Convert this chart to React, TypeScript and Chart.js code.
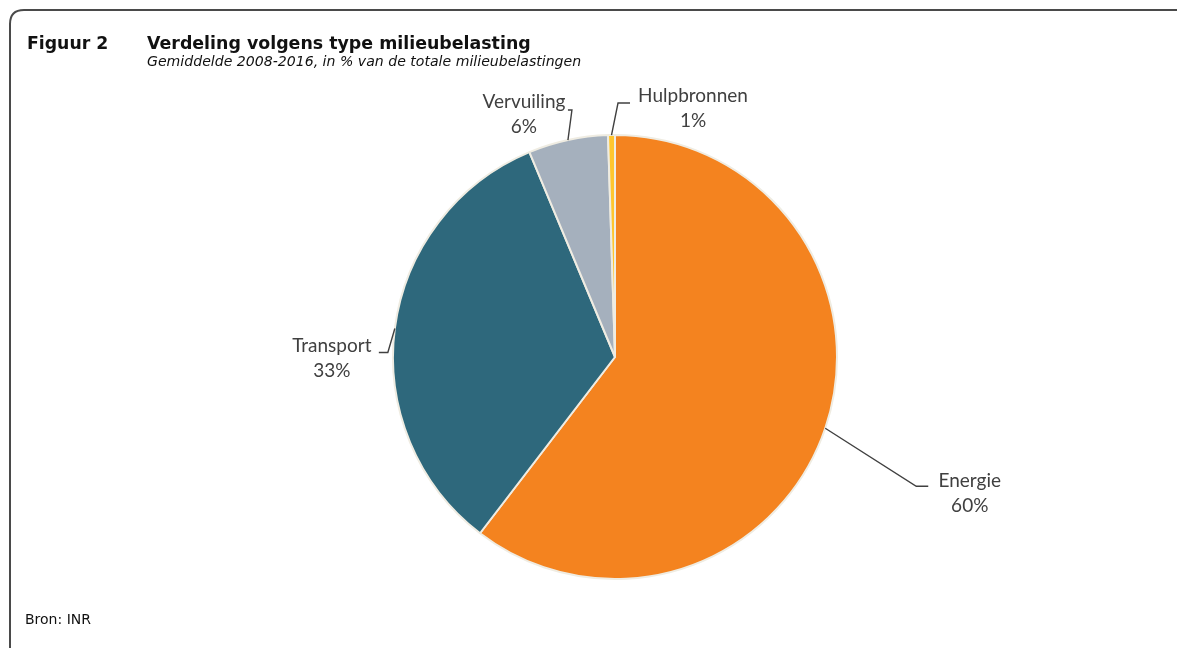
import React, { useEffect, useRef } from "react";
import { Chart, registerables } from "chart.js";

Chart.register(...registerables);

const categories = ["Energie", "Transport", "Vervuiling", "Hulpbronnen"];
const shares = [60.4, 33.3, 5.8, 0.5];
const percentLabels = ["60%", "33%", "6%", "1%"];
const sliceColors = ["#F4831F", "#2E687C", "#A5B0BD", "#FFC62E"];

// leader layout per label: elbow offset from slice edge, horizontal tick, text offset from tick end
const labelLayout = [
  { elbow: [91, 58], tick: 12, text: [41.5, 1] },
  { elbow: [-7, 24], tick: -9, text: [-47, 0] },
  { elbow: [4, -30], tick: -4, text: [-44, -2] },
  { elbow: [6.5, -32], tick: 12, text: [63, -1] },
];

const LABEL_FONT = "19px Lato";
const LABEL_COLOR = "#404040";

const leaderPlugin = {
  id: "leaderLabels",
  afterDatasetsDraw(chart: any) {
    const ctx = chart.ctx as CanvasRenderingContext2D;
    const meta = chart.getDatasetMeta(0);
    meta.data.forEach((arc: any, i: number) => {
      const p = arc.getProps(["x", "y", "startAngle", "endAngle", "outerRadius"], true);
      const mid = (p.startAngle + p.endAngle) / 2;
      const ex = p.x + Math.cos(mid) * p.outerRadius;
      const ey = p.y + Math.sin(mid) * p.outerRadius;
      const L = labelLayout[i];
      const bx = ex + L.elbow[0];
      const by = ey + L.elbow[1];
      const tx = bx + L.tick;
      ctx.save();
      ctx.strokeStyle = LABEL_COLOR;
      ctx.lineWidth = 1.4;
      ctx.beginPath();
      ctx.moveTo(ex, ey);
      ctx.lineTo(bx, by);
      ctx.lineTo(tx, by);
      ctx.stroke();
      ctx.fillStyle = LABEL_COLOR;
      ctx.font = LABEL_FONT;
      ctx.textAlign = "center";
      ctx.textBaseline = "alphabetic";
      const cx = tx + L.text[0];
      const cy = by + L.text[1];
      ctx.fillText(categories[i], cx, cy);
      ctx.fillText(percentLabels[i], cx, cy + 25);
      ctx.restore();
    });
  },
};

export default function App() {
  const canvasRef = useRef<HTMLCanvasElement | null>(null);

  useEffect(() => {
    if (!canvasRef.current) return;
    const chart = new Chart(canvasRef.current, {
      type: "pie",
      data: {
        labels: categories,
        datasets: [
          {
            data: shares,
            backgroundColor: sliceColors,
            borderColor: "#EFECE2",
            borderWidth: 2,
            radius: 222,
          } as any,
        ],
      },
      options: {
        animation: false,
        responsive: false,
        maintainAspectRatio: false,
        layout: { padding: { left: 53, right: 0, top: 66, bottom: 0 } },
        plugins: {
          legend: { display: false },
          tooltip: { enabled: false },
          title: { display: false },
        },
      },
      plugins: [leaderPlugin],
    });
    return () => chart.destroy();
  }, []);

  const titleFont = "'DejaVu Sans', sans-serif";

  return (
    <div
      style={{
        position: "fixed",
        left: 0,
        top: 0,
        width: 1177,
        height: 648,
        overflow: "hidden",
        background: "#ffffff",
      }}
    >
      <svg
        width={1177}
        height={648}
        style={{ position: "absolute", left: 0, top: 0 }}
      >
        <path
          d="M 10 660 L 10 24 Q 10 10 24 10 L 1190 10"
          fill="none"
          stroke="#4a4a4a"
          strokeWidth={2}
        />
      </svg>
      <canvas
        ref={canvasRef}
        width={1177}
        height={648}
        style={{ position: "absolute", left: 0, top: 0, width: 1177, height: 648 }}
      />
      <div
        style={{
          position: "absolute",
          left: 27,
          top: 33,
          fontFamily: titleFont,
          fontWeight: "bold",
          fontSize: 17.3,
          lineHeight: "20px",
          color: "#111",
          whiteSpace: "nowrap",
        }}
      >
        Figuur 2
      </div>
      <div
        style={{
          position: "absolute",
          left: 147,
          top: 33,
          fontFamily: titleFont,
          fontWeight: "bold",
          fontSize: 17.4,
          lineHeight: "20px",
          color: "#111",
          whiteSpace: "nowrap",
        }}
      >
        Verdeling volgens type milieubelasting
      </div>
      <div
        style={{
          position: "absolute",
          left: 147,
          top: 53,
          fontFamily: titleFont,
          fontStyle: "italic",
          fontSize: 14.1,
          lineHeight: "17px",
          color: "#111",
          whiteSpace: "nowrap",
        }}
      >
        Gemiddelde 2008-2016, in % van de totale milieubelastingen
      </div>
      <div
        style={{
          position: "absolute",
          left: 25,
          top: 611,
          fontFamily: titleFont,
          fontSize: 14,
          lineHeight: "17px",
          color: "#111",
          whiteSpace: "nowrap",
        }}
      >
        Bron: INR
      </div>
    </div>
  );
}
